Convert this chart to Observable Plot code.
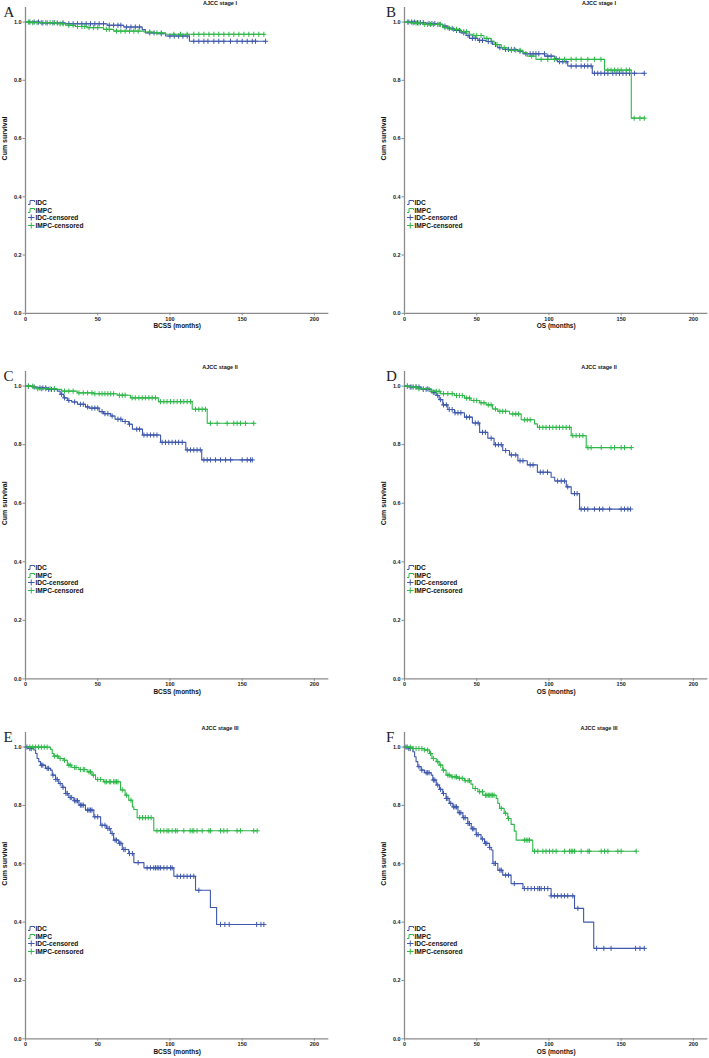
<!DOCTYPE html>
<html><head><meta charset="utf-8">
<script src="https://cdn.jsdelivr.net/npm/d3@7"></script>
<script src="https://cdn.jsdelivr.net/npm/@observablehq/plot@0.6"></script>
<style>
body{margin:0;background:#fff;}
#root{position:relative;width:709px;height:1058px;overflow:hidden;font-family:"Liberation Sans",Arial,sans-serif;}
.panel{position:absolute;}
.letter{position:absolute;font-family:"Liberation Serif","Times New Roman",serif;font-size:15px;line-height:15px;color:#222;}
.title{position:absolute;font-size:5.5px;font-weight:bold;transform:translate(-50%,-50%);white-space:nowrap;color:#111;}
.legend{position:absolute;font-size:6.6px;font-weight:bold;color:#111;}
.legend .row{display:flex;align-items:center;height:7.6px;white-space:nowrap;}
.legend svg{width:7px;height:7px;margin-right:0.5px;flex:none;}
</style></head><body><div id="root"></div><script>
// ---------- data ----------
const xTicks = [0, 50, 100, 150, 200];
const yTicks = [0, 0.2, 0.4, 0.6, 0.8, 1.0];
const seriesNames = ["IDC", "IMPC"];
const legendLabels = ["IDC", "IMPC", "IDC-censored", "IMPC-censored"];
const seriesColors = ["#3e58ac", "#2eb848"];
const panelLetters = ["A", "B", "C", "D", "E", "F"];
const panelTitles = ["AJCC stage I", "AJCC stage I", "AJCC stage II", "AJCC stage II", "AJCC stage III", "AJCC stage III"];
const panelXLabels = ["BCSS (months)", "OS (months)", "BCSS (months)", "OS (months)", "BCSS (months)", "OS (months)"];

// A: AJCC stage I, BCSS
const A_IDC_t = [0, 10, 27.7, 56.5, 68, 80.8, 83, 91, 97, 113.5];
const A_IDC_s = [1, 0.997, 0.994, 0.989, 0.983, 0.974, 0.963, 0.960, 0.952, 0.934];
const A_IDC_c = [3, 6, 9, 12, 15, 19, 22, 26, 30, 33, 36, 39, 42, 45, 48, 51, 54, 58, 61, 64, 66, 70, 73, 76, 79, 86, 89, 94, 100, 103, 106, 109, 112, 116.5, 120, 123.5, 126.3, 130.4, 133.8, 137.3, 141.9, 146.5, 150, 153.5, 157, 159.2, 166.2];
const A_IMPC_t = [0, 3.5, 22, 27.7, 34.6, 42.7, 54, 61, 82, 89, 97];
const A_IMPC_s = [1, 0.998, 0.994, 0.989, 0.985, 0.981, 0.975, 0.969, 0.966, 0.963, 0.958];
const A_IMPC_c = [2, 5, 8, 11, 14, 17, 20, 24, 26, 30, 33, 36, 39, 41, 44, 47, 50, 56, 58, 63, 66, 69, 72, 75, 78, 86, 91, 94, 102.7, 107.3, 111.9, 116.5, 120, 123.5, 127, 130.4, 133.8, 137.3, 140.8, 144.2, 147.7, 151.2, 154.6, 158, 161.5, 165];

// B: AJCC stage I, OS
const B_IDC_t = [0, 8, 15, 23, 26.5, 30, 34.6, 39, 42.7, 45, 50.8, 56.5, 61, 64.6, 68, 78.5, 82, 97, 104, 106, 113, 130];
const B_IDC_s = [1, 0.998, 0.995, 0.992, 0.986, 0.978, 0.971, 0.963, 0.954, 0.944, 0.937, 0.933, 0.923, 0.912, 0.906, 0.900, 0.891, 0.883, 0.875, 0.864, 0.849, 0.824];
const B_IDC_c = [3, 5, 7, 9, 11, 13, 17, 19, 21, 24, 28, 31, 33, 36, 38, 41, 44, 47, 49, 52, 54, 58, 60, 63, 66, 70, 72, 74, 76, 80, 84, 87, 89, 91, 93, 96.9, 99.2, 101.5, 105, 107.3, 109.6, 111.9, 115.4, 118.8, 122.3, 124.6, 126.9, 129.2, 131.5, 133.8, 136, 138.5, 140.8, 144.2, 146.5, 148.8, 151.2, 153.5, 155.8, 159.2, 166];
const B_IMPC_t = [0, 4, 12.7, 26.5, 32, 39, 45, 47, 55, 60, 62, 67, 71.5, 82, 85, 91, 138.5, 157];
const B_IMPC_s = [1, 0.997, 0.992, 0.981, 0.975, 0.967, 0.958, 0.954, 0.944, 0.935, 0.923, 0.912, 0.903, 0.895, 0.883, 0.872, 0.835, 0.670];
const B_IMPC_c = [2, 6, 8, 10, 14, 16, 18, 20, 23, 25, 28, 30, 34, 36, 41, 43, 48, 50, 53, 57, 64, 69, 74, 77, 80, 88, 94.6, 99.2, 103.8, 107.3, 110.8, 115.4, 118.8, 122.3, 126.9, 131.5, 136, 140.8, 143, 145.4, 147.7, 150, 153.5, 155.8, 159, 163, 166];

// C: AJCC stage II, BCSS
const C_IDC_t = [0, 4.6, 8, 15, 22, 24, 26.5, 29, 32, 36, 41.5, 44, 51, 54, 59, 62, 67, 71.5, 74, 81, 93.5, 111, 122];
const C_IDC_s = [1, 0.997, 0.994, 0.989, 0.983, 0.972, 0.960, 0.951, 0.946, 0.938, 0.929, 0.925, 0.913, 0.906, 0.898, 0.887, 0.879, 0.870, 0.853, 0.833, 0.808, 0.782, 0.748];
const C_IDC_c = [2, 6, 10, 12, 14, 16, 18, 20, 25, 27, 30, 34, 38, 40, 43, 46, 48, 50, 53, 55, 57, 60, 64, 66, 69, 72, 77, 79, 82, 84.2, 86.5, 88.8, 91, 94.6, 96.9, 99.2, 101.5, 103.8, 106, 108.5, 112, 114.2, 116.5, 118.8, 121, 123.5, 125.8, 128, 131.5, 135, 138.5, 142, 150, 153.5, 155.8, 157];
const C_IMPC_t = [0, 5.8, 8, 22, 25, 35.8, 47, 63.5, 72.7, 92, 115.4, 125.8];
const C_IMPC_s = [1, 0.994, 0.991, 0.989, 0.983, 0.977, 0.974, 0.969, 0.960, 0.947, 0.921, 0.873];
const C_IMPC_c = [2, 5, 8.5, 11, 14, 17, 20, 27, 30, 33, 37, 40, 43, 46, 48, 51, 53, 55, 57, 59, 61, 65, 67, 69, 73.8, 76, 78.5, 80.8, 83, 85.4, 87.7, 90, 93.5, 95.8, 98, 100.4, 102.7, 105, 107.3, 109.6, 111.9, 114.2, 117.7, 120, 122.3, 124.6, 128, 132.7, 139.6, 144.2, 146.5, 148.8, 152.3, 158];

// D: AJCC stage II, OS
const D_IDC_t = [0, 3.5, 11.5, 18.5, 22, 24, 26.5, 30, 34.6, 41.5, 47, 52, 57.7, 62, 68, 72.7, 78.5, 85, 92, 101.5, 104, 112, 115.4, 121.2];
const D_IDC_s = [1, 0.997, 0.989, 0.979, 0.968, 0.954, 0.936, 0.920, 0.909, 0.894, 0.874, 0.842, 0.822, 0.800, 0.780, 0.765, 0.745, 0.731, 0.706, 0.689, 0.676, 0.656, 0.633, 0.580];
const D_IDC_c = [2, 4, 6, 8, 10, 13, 15, 17, 20, 21, 23, 25, 27, 29, 31, 33, 35, 37, 39, 43, 45, 49, 51, 54, 56, 60, 63, 65, 67, 70, 74, 77, 80, 82, 87, 89, 94, 96, 99, 106, 108.5, 110.8, 113, 117.7, 119.5, 122.3, 124.6, 126.9, 131.5, 135, 137.3, 142, 150, 152.3, 154.6, 156.5];
const D_IMPC_t = [0, 3.5, 9, 18.5, 25, 34.6, 41.5, 46, 52, 56.5, 61, 64.6, 72.7, 80.8, 90, 92, 115.4, 125.8];
const D_IMPC_s = [1, 0.997, 0.991, 0.982, 0.974, 0.968, 0.959, 0.951, 0.943, 0.936, 0.922, 0.914, 0.905, 0.885, 0.871, 0.859, 0.831, 0.790];
const D_IMPC_c = [2, 5, 8, 10, 13, 16, 19, 22, 24, 27, 30, 33, 36, 38, 40, 43, 45, 48, 50, 53, 55, 58, 60, 63, 66, 68, 70, 75, 77, 79, 83, 85, 87, 93.5, 95.8, 98, 100.4, 102.7, 105, 107.3, 109.6, 111.9, 114.2, 116.5, 118.8, 121.2, 123.5, 127, 129.2, 136.2, 143, 145.4, 150, 152.3, 157];

// E: AJCC stage III, BCSS
const E_IDC_t = [0, 2.3, 5.8, 7, 8, 9.2, 10.4, 13.8, 17.3, 18.5, 20.8, 23, 25.4, 27.7, 30, 33.5, 37, 41.5, 47.3, 52, 56, 59, 61, 64.6, 67, 71.5, 75, 82, 102.7, 117.7, 128, 132.3];
const E_IDC_s = [1, 0.995, 0.990, 0.978, 0.961, 0.950, 0.938, 0.927, 0.921, 0.904, 0.889, 0.875, 0.862, 0.841, 0.827, 0.816, 0.801, 0.784, 0.761, 0.732, 0.721, 0.704, 0.681, 0.670, 0.649, 0.635, 0.604, 0.586, 0.557, 0.509, 0.450, 0.392];
const E_IDC_c = [1, 3, 4, 11, 12, 15, 16, 19, 21, 22, 24, 26, 28, 29, 31, 32, 34, 35, 36, 38, 39, 40, 43, 44, 45, 46, 48, 50, 53, 55, 57, 58, 60, 62, 63, 65, 66, 68, 69, 72, 74, 78, 84.2, 86.5, 88.8, 90, 91.2, 92.3, 93.5, 95.8, 98, 100.4, 101.5, 105, 107.3, 109.6, 111.9, 114.2, 116.5, 120, 135, 138, 141, 160, 163, 165];
const E_IMPC_t = [0, 17.3, 18.5, 19.6, 23, 26.5, 29, 32, 37, 42.7, 46, 48.5, 54, 65.8, 69, 71.5, 74, 75, 77.3, 88.8];
const E_IMPC_s = [1, 0.992, 0.978, 0.969, 0.961, 0.955, 0.938, 0.930, 0.923, 0.915, 0.904, 0.889, 0.881, 0.853, 0.835, 0.818, 0.795, 0.786, 0.758, 0.713];
const E_IMPC_c = [3, 5, 7, 9, 11, 13, 15, 20, 22, 24, 27, 30, 31, 34, 35, 38, 40, 41, 44, 45, 47, 50, 52, 55, 56, 58, 59, 61, 62, 63, 64, 67, 70, 73, 79, 81, 83, 85, 87, 91, 93.5, 95.8, 98, 99.2, 101.5, 103.8, 105, 109.6, 114, 115.4, 116.5, 118.8, 122.3, 127, 128, 135, 137.3, 139.6, 146.5, 148.8, 158, 160.4];

// F: AJCC stage III, OS
const F_IDC_t = [0, 2.3, 5.8, 7, 8, 9.2, 11.5, 13.8, 18.5, 19.6, 22, 24.2, 26.5, 28.8, 31, 33.5, 37, 40.4, 43.8, 46.2, 49.6, 53, 55.4, 58.8, 60, 61.2, 64.6, 68, 73.8, 82, 101.5, 117.7, 124, 131];
const F_IDC_s = [1, 0.995, 0.984, 0.967, 0.950, 0.933, 0.921, 0.912, 0.904, 0.887, 0.870, 0.855, 0.841, 0.824, 0.807, 0.795, 0.775, 0.758, 0.738, 0.720, 0.700, 0.685, 0.670, 0.656, 0.647, 0.601, 0.578, 0.561, 0.532, 0.515, 0.490, 0.447, 0.400, 0.310];
const F_IDC_c = [1, 3, 4, 10, 12, 15, 16, 17, 20, 21, 23, 25, 27, 29, 30, 32, 34, 35, 36, 38, 39, 41, 42, 44, 45, 47, 48, 50, 51, 54, 56, 57, 59, 62, 63, 66, 67, 70, 72, 76, 83, 85.4, 87.7, 90, 92.3, 93.5, 94.6, 96.9, 99.2, 101.5, 103.8, 106, 108.5, 110.8, 113, 116.5, 120, 133, 138, 143, 160, 163, 166];
const F_IMPC_t = [0, 5.8, 13.8, 17.3, 19, 22, 24, 26.5, 28.8, 32.3, 37, 41.5, 46, 47.3, 50.8, 54.2, 63.5, 64.6, 65.8, 69, 71.5, 73.8, 76, 77.3, 88.8];
const F_IMPC_s = [1, 0.995, 0.990, 0.978, 0.961, 0.950, 0.938, 0.921, 0.904, 0.898, 0.893, 0.885, 0.873, 0.858, 0.847, 0.835, 0.824, 0.807, 0.790, 0.773, 0.755, 0.735, 0.712, 0.681, 0.643];
const F_IMPC_c = [2, 4, 6, 8, 10, 12, 14, 16, 18, 20, 23, 25, 27, 30, 31, 33, 35, 36, 38, 40, 42, 44, 45, 49, 52, 54, 56, 57, 58, 59, 60, 61, 62, 67, 70, 72, 83, 84.2, 85.4, 86.5, 90, 92.3, 95.8, 98, 100.4, 102.7, 105, 110.8, 114.2, 115.4, 116.5, 117.7, 122.3, 127, 128, 136.2, 138.5, 140.8, 147.7, 150, 160.4];

const panelSeries = [
  [[A_IDC_t, A_IDC_s, A_IDC_c], [A_IMPC_t, A_IMPC_s, A_IMPC_c]],
  [[B_IDC_t, B_IDC_s, B_IDC_c], [B_IMPC_t, B_IMPC_s, B_IMPC_c]],
  [[C_IDC_t, C_IDC_s, C_IDC_c], [C_IMPC_t, C_IMPC_s, C_IMPC_c]],
  [[D_IDC_t, D_IDC_s, D_IDC_c], [D_IMPC_t, D_IMPC_s, D_IMPC_c]],
  [[E_IDC_t, E_IDC_s, E_IDC_c], [E_IMPC_t, E_IMPC_s, E_IMPC_c]],
  [[F_IDC_t, F_IDC_s, F_IDC_c], [F_IMPC_t, F_IMPC_s, F_IMPC_c]]
];

// ---------- layout ----------
const rows = [{top: 6.9, bottom: 312.7}, {top: 370.9, bottom: 678.3}, {top: 732.4, bottom: 1038.7}];
const cols = [{left: 0, width: 354, axisX: 25, letterX: 3.5}, {left: 354, width: 355, axisX: 50, letterX: 386}];
const xMax = 210, yMax = 1.05, pxPerMonth = 1.4445;
const axisColor = "#8a8a8a";
const root = document.getElementById("root");

function buildSeries([t, s, c], name) {
  const end = Math.max(d3.max(t), d3.max(c));
  const pts = t.map((ti, i) => ({t: ti, s: s[i], g: name}));
  pts.push({t: end, s: s[s.length - 1], g: name});
  const cens = c.map(ci => ({t: ci, s: s[d3.bisectRight(t, ci) - 1], g: name}));
  return {pts, cens};
}

panelSeries.forEach((series, p) => {
  const row = rows[Math.floor(p / 2)], col = cols[p % 2];
  const frameH = row.bottom - row.top;
  const mTop = 7, mBottom = 22;
  const marginRight = col.width - col.axisX - xMax * pxPerMonth;
  const built = series.map((sr, i) => buildSeries(sr, seriesNames[i]));
  const marks = [
    Plot.ruleY([0], {stroke: axisColor, strokeWidth: 1.3}),
    Plot.ruleX([0], {stroke: axisColor, strokeWidth: 1.3}),
    Plot.axisX({ticks: xTicks, tickSize: 2.5, tickPadding: 1, fontSize: 5.5, label: null, stroke: axisColor}),
    Plot.axisY({ticks: yTicks, tickFormat: d3.format(".1f"), tickSize: 2.5, tickPadding: 1.5, fontSize: 5.5, label: null, stroke: axisColor}),
    Plot.text([panelXLabels[p]], {frameAnchor: "bottom", dy: 15, fontSize: 6.5, fontWeight: "bold", fill: "#111"}),
    Plot.text(["Cum survival"], {frameAnchor: "left", dx: -21, rotate: -90, fontSize: 7, fontWeight: "bold", fill: "#111"})
  ];
  built.forEach((b, i) => {
    marks.push(Plot.line(b.pts, {x: "t", y: "s", curve: "step-after", stroke: seriesColors[i], strokeWidth: 1.1}));
    marks.push(Plot.dot(b.cens, {x: "t", y: "s", symbol: "plus", r: 1.8, stroke: seriesColors[i], strokeWidth: 1}));
  });
  const chart = Plot.plot({
    width: col.width, height: mTop + frameH + mBottom,
    marginTop: mTop, marginBottom: mBottom, marginLeft: col.axisX, marginRight,
    x: {domain: [0, xMax]}, y: {domain: [0, yMax]},
    style: {fontFamily: '"Liberation Sans", Arial, sans-serif', fontWeight: "bold", color: "#222", background: "transparent", overflow: "visible"},
    marks
  });
  const div = document.createElement("div");
  div.className = "panel";
  div.style.left = col.left + "px";
  div.style.top = (row.top - mTop) + "px";
  div.appendChild(chart);
  root.appendChild(div);

  // panel letter
  const L = document.createElement("div");
  L.className = "letter"; L.textContent = panelLetters[p];
  L.style.left = col.letterX + "px"; L.style.top = (row.top + 0.5 - 2.6) + "px";
  root.appendChild(L);
  // title
  const T = document.createElement("div");
  T.className = "title"; T.textContent = panelTitles[p];
  T.style.left = (col.left + col.axisX + 195) + "px"; T.style.top = (row.top - 4) + "px";
  root.appendChild(T);
  // legend
  const unit = frameH / yMax;
  const y04 = row.bottom - 0.4 * unit;
  const G = document.createElement("div");
  G.className = "legend";
  G.style.left = (col.left + col.axisX + 3) + "px";
  G.style.top = (y04 + 6.5 - 3.8) + "px";
  legendLabels.forEach((lab, i) => {
    const color = seriesColors[i % 2];
    const icon = i < 2
      ? `<svg viewBox="0 0 7 7"><path d="M0,5.5H2V1.5H6.5V3" fill="none" stroke="${color}" stroke-width="1"/></svg>`
      : `<svg viewBox="0 0 7 7"><path d="M0,3.5H6.5M3.25,0.5V6.5" fill="none" stroke="${color}" stroke-width="1"/></svg>`;
    const r = document.createElement("div");
    r.className = "row";
    r.innerHTML = icon + `<span>${lab}</span>`;
    G.appendChild(r);
  });
  root.appendChild(G);
});
</script></body></html>
